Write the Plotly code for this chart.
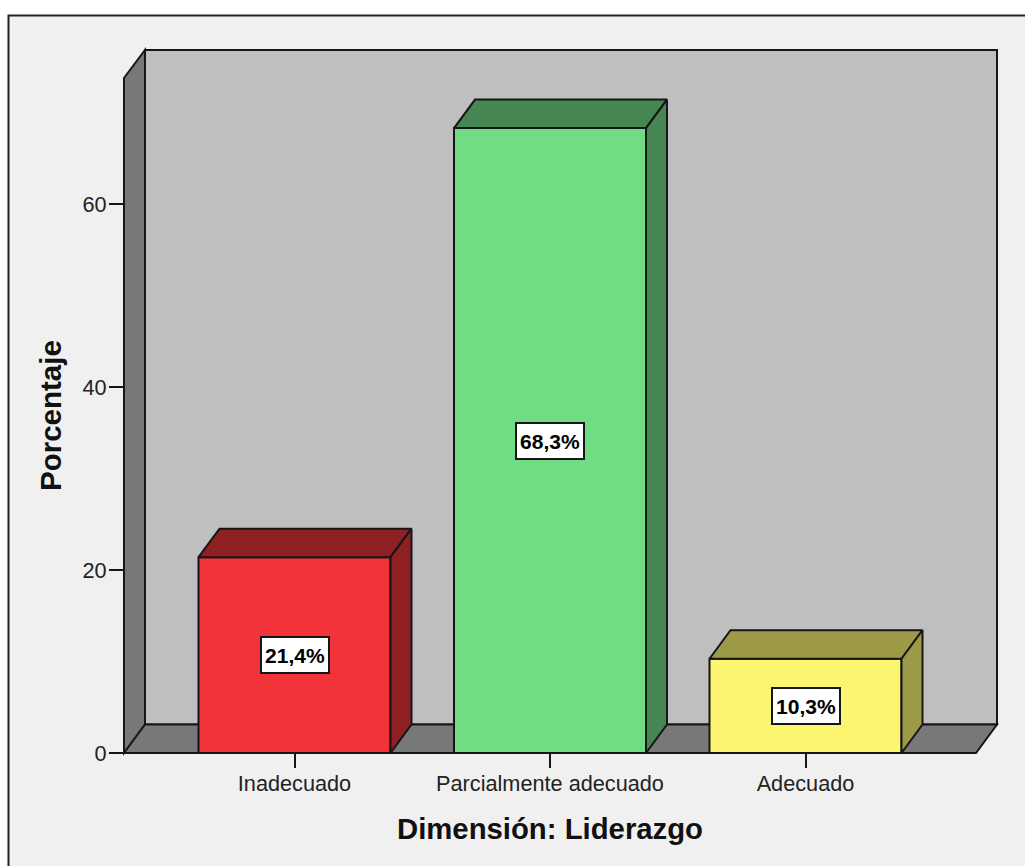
import plotly.graph_objects as go

categories = ["Inadecuado", "Parcialmente adecuado", "Adecuado"]
values = [21.4, 68.3, 10.3]
value_labels = ["21,4%", "68,3%", "10,3%"]
y_ticks = [0, 20, 40, 60]
front_colors = ["#f2343a", "#70dd85", "#fbf570"]
dark_colors = ["#8f2024", "#468652", "#9c9a46"]

W, H = 1025, 866
L, R, T, B = 124, 28, 50, 113
unit_x = 255.5
unit_y = 9.15
first_center_px = 294.5
plot_w = W - L - R
plot_h = H - T - B
x_range = [(L - first_center_px) / unit_x, (L + plot_w - first_center_px) / unit_x]
y_range = [0, plot_h / unit_y]
depth_x = 21 / unit_x
depth_y = 28.5 / unit_y
bar_width = 192 / unit_x
edge = "#161616"
positions = list(range(len(categories)))


def px(x_p):
    return (x_p - L) / plot_w


def py(y_p):
    return 1 - (y_p - T) / plot_h


def path(points):
    return "M " + " L ".join(f"{px(a):.5f} {py(b):.5f}" for a, b in points) + " Z"


def poly(points, fill, width=2):
    return dict(type="path", xref="paper", yref="paper", path=path(points), fillcolor=fill,
                line=dict(color=edge, width=width), layer="below")


front_right = L + plot_w - 21
shapes = [
    dict(type="rect", xref="paper", yref="paper", x0=px(8.5), x1=px(1040), y0=py(880), y1=py(15.5),
         fillcolor="#f0f0f0", line=dict(color="#222222", width=2), layer="below"),
    poly([(L + 21, T), (L + plot_w, T), (L + plot_w, H - B - 28.5), (L + 21, H - B - 28.5)], "#bfbfbf"),
    poly([(L, H - B), (L + 21, H - B - 28.5), (L + 21, T), (L, T + 28)], "#787878"),
    poly([(L, H - B), (L + 21, H - B - 28.5), (L + plot_w, H - B - 28.5), (front_right, H - B)], "#787878"),
]

fig = go.Figure()
fig.add_trace(go.Bar(
    x=positions, y=values, width=bar_width,
    marker=dict(color=front_colors, line=dict(color=edge, width=2)),
    cliponaxis=False, hoverinfo="skip", showlegend=False,
))

for x, v, dark in zip(positions, values, dark_colors):
    x0, x1 = x - bar_width / 2, x + bar_width / 2
    fig.add_trace(go.Scatter(
        x=[x0, x0 + depth_x, x1 + depth_x, x1, x0], y=[v, v + depth_y, v + depth_y, v, v],
        mode="lines", fill="toself", fillcolor=dark, line=dict(color=edge, width=2),
        hoverinfo="skip", showlegend=False,
    ))
    fig.add_trace(go.Scatter(
        x=[x1, x1 + depth_x, x1 + depth_x, x1, x1], y=[0, depth_y, v + depth_y, v, 0],
        mode="lines", fill="toself", fillcolor=dark, line=dict(color=edge, width=2),
        hoverinfo="skip", showlegend=False,
    ))

annotations = [
    dict(x=x, y=v / 2, text=f"<b>{t}</b>", showarrow=False, width=66, height=34,
         bgcolor="white", bordercolor=edge, borderwidth=2, borderpad=0,
         font=dict(family="Liberation Sans", size=21, color="black"))
    for x, v, t in zip(positions, values, value_labels)
]
annotations.append(dict(
    xref="paper", yref="paper", x=px(550), y=py(828), xanchor="center", yanchor="middle",
    text="<b>Dimensión: Liderazgo</b>", showarrow=False,
    font=dict(family="Liberation Sans", size=29.3, color="#111111"),
))
annotations.append(dict(
    xref="paper", yref="paper", x=px(51), y=py(416), xanchor="center", yanchor="middle",
    text="<b>Porcentaje</b>", textangle=-90, showarrow=False,
    font=dict(family="Liberation Sans", size=29.5, color="#111111"),
))

tick_font = dict(family="Liberation Sans", size=21.7, color="#222222")
fig.update_layout(
    width=W, height=H,
    margin=dict(l=L, r=R, t=T, b=B, pad=0),
    paper_bgcolor="white", plot_bgcolor="rgba(0,0,0,0)",
    shapes=shapes, annotations=annotations,
    barmode="overlay", showlegend=False,
    xaxis=dict(range=x_range, tickmode="array", tickvals=positions, ticktext=categories,
               ticks="outside", ticklen=14, tickwidth=2, tickcolor=edge, tickfont=tick_font,
               ticklabelstandoff=-3,
               showgrid=False, zeroline=False, showline=False, fixedrange=True),
    yaxis=dict(range=y_range, tickmode="array", tickvals=y_ticks,
               ticks="outside", ticklen=14, tickwidth=2, tickcolor=edge, tickfont=tick_font,
               ticklabelstandoff=-2,
               showgrid=False, zeroline=False, showline=False, fixedrange=True),
)

fig.write_html("out.html", config={"displayModeBar": False},
               post_script="document.body.style.margin='0';document.body.style.overflow='hidden';")
